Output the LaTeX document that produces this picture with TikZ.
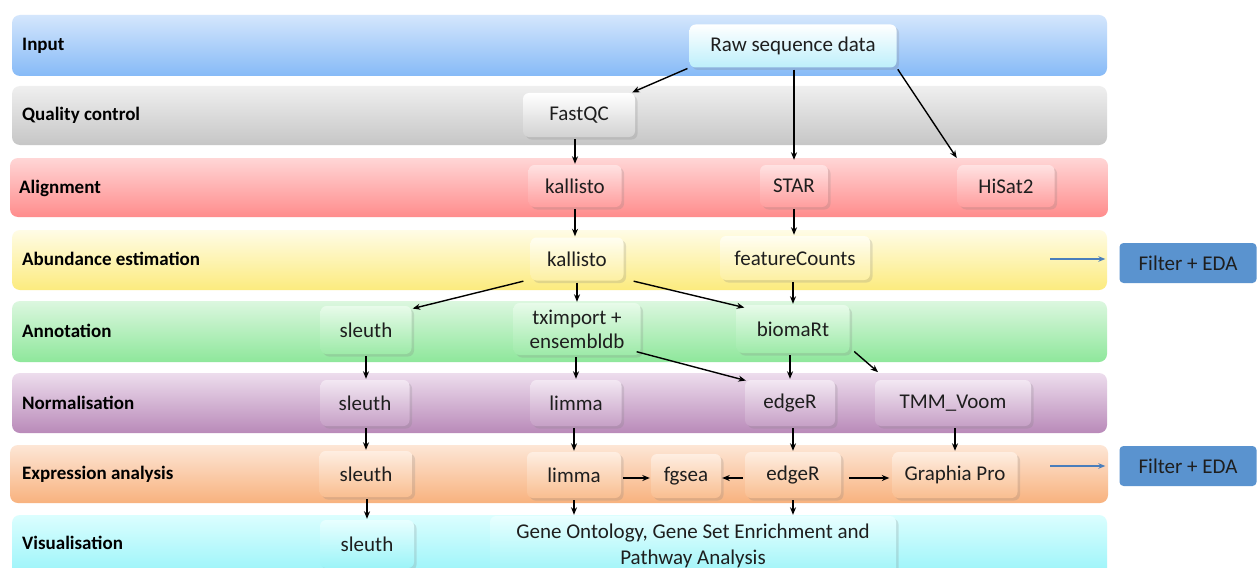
\documentclass[tikz,border=0pt]{standalone}
\usepackage{fontspec}
\setmainfont{Carlito}
\usetikzlibrary{shadows,arrows.meta,calc}
\definecolor{laInT}{HTML}{D4E6FC}\definecolor{laInB}{HTML}{86BAF7}
\definecolor{laQcT}{HTML}{EFEFEF}\definecolor{laQcB}{HTML}{C6C6C6}
\definecolor{laAlT}{HTML}{FFD6D6}\definecolor{laAlB}{HTML}{FF8C8C}
\definecolor{laAbT}{HTML}{FFFCE6}\definecolor{laAbB}{HTML}{FCEB7E}
\definecolor{laAnT}{HTML}{DCF7DF}\definecolor{laAnB}{HTML}{8EE79B}
\definecolor{laNoT}{HTML}{EDDDED}\definecolor{laNoB}{HTML}{B98AB9}
\definecolor{laExT}{HTML}{FDE6D6}\definecolor{laExB}{HTML}{F8B27E}
\definecolor{laViT}{HTML}{DBFEFE}\definecolor{laViB}{HTML}{7FF0F8}
\definecolor{bxRawB}{HTML}{BDEFFB}
\definecolor{bxQcB}{HTML}{D2D2D2}
\definecolor{bxAlT}{HTML}{FFE2E2}\definecolor{bxAlB}{HTML}{FF9E9E}
\definecolor{bxAbT}{HTML}{FFFEF2}\definecolor{bxAbB}{HTML}{FDF0A2}
\definecolor{bxAnT}{HTML}{E8FBEA}\definecolor{bxAnB}{HTML}{9DEAA8}
\definecolor{bxNoT}{HTML}{F3E8F3}\definecolor{bxNoB}{HTML}{C6A0C6}
\definecolor{bxExT}{HTML}{FEEEE2}\definecolor{bxExB}{HTML}{F9BE90}
\definecolor{bxViT}{HTML}{E8FFFF}\definecolor{bxViB}{HTML}{9CF4F8}
\definecolor{feBlue}{HTML}{5A93CF}
\definecolor{arBlue}{HTML}{4A7EBB}
\definecolor{txDark}{HTML}{1E1E1E}
\tikzset{
  lane/.style 2 args={rounded corners=8pt,top color=#1,bottom color=#2,draw=none},
  lanelabel/.style={anchor=west,font=\bfseries\fontsize{19}{22}\selectfont,text=black,inner sep=0pt},
  box/.style 2 args={rounded corners=6pt,top color=#1,bottom color=#2,draw=none,
     text=txDark,font=\fontsize{21}{24}\selectfont,inner sep=2pt,align=center,
     drop shadow={shadow xshift=2.5pt,shadow yshift=-2.5pt,opacity=0.22}},
  febox/.style={rounded corners=4pt,fill=feBlue,draw=none,text=txDark,
     font=\fontsize{21}{24}\selectfont,minimum width=137pt,minimum height=40pt},
  arr/.style={-{Stealth[length=7.5pt,width=6pt]},line width=1.4pt,black,shorten <=2pt,shorten >=1pt},
  barr/.style={-{Stealth[length=7pt,width=5.5pt]},line width=1.2pt,arBlue},
}
\begin{document}
\begin{tikzpicture}[x=1pt,y=-1pt]
\clip (0,0) rectangle (1257,567);
\useasboundingbox (0,0) rectangle (1257,567);
\fill[white] (0,0) rectangle (1257,567);
% lanes
\path[lane={laInT}{laInB}] (12,15) rectangle (1107,76);
\path[lane={laQcT}{laQcB}] (12,86) rectangle (1107,145);
\path[lane={laAlT}{laAlB}] (10,158) rectangle (1108,217);
\path[lane={laAbT}{laAbB}] (12,230) rectangle (1107,290);
\path[lane={laAnT}{laAnB}] (12,301) rectangle (1107,362);
\path[lane={laNoT}{laNoB}] (12,373) rectangle (1107,433);
\path[lane={laExT}{laExB}] (10,445) rectangle (1108,503);
\path[lane={laViT}{laViB}] (12,515) rectangle (1107,600);
% lane labels
\node[lanelabel] (lInput) at (22,46) {Input};
\node[lanelabel] (lQc) at (22,115) {Quality control};
\node[lanelabel] (lAl) at (19,188) {Alignment};
\node[lanelabel] (lAb) at (22,259) {Abundance estimation};
\node[lanelabel] (lAn) at (22,331) {Annotation};
\node[lanelabel] (lNo) at (22,403) {Normalisation};
\node[lanelabel] (lEx) at (22,474) {Expression analysis};
\node[lanelabel] (lVi) at (22,543) {Visualisation};
% boxes
\node[box={white}{bxRawB},minimum width=207pt,minimum height=43pt] (raw) at (793,46) {Raw sequence data};
\node[box={white}{bxQcB},minimum width=112pt,minimum height=44pt] (fastqc) at (579,115) {FastQC};
\node[box={bxAlT}{bxAlB},minimum width=93pt,minimum height=42pt] (kal1) at (575,186) {kallisto};
\node[box={bxAlT}{bxAlB},minimum width=68pt,minimum height=42pt] (star) at (794,186) {STAR};
\node[box={bxAlT}{bxAlB},minimum width=97pt,minimum height=42pt] (hisat) at (1006,186) {HiSat2};
\node[box={bxAbT}{bxAbB},minimum width=93pt,minimum height=43pt] (kal2) at (577,259) {kallisto};
\node[box={bxAbT}{bxAbB},minimum width=150pt,minimum height=44pt] (fc) at (795,258) {featureCounts};
\node[box={bxAnT}{bxAnB},minimum width=91pt,minimum height=48pt] (sl1) at (366,330) {sleuth};
\node[box={bxAnT}{bxAnB},minimum width=127pt,minimum height=52pt] (tx) at (577,329) {tximport +\\ensembldb};
\node[box={bxAnT}{bxAnB},minimum width=113pt,minimum height=48pt] (bm) at (793,329) {biomaRt};
\node[box={bxNoT}{bxNoB},minimum width=89pt,minimum height=46pt] (sl2) at (365,403) {sleuth};
\node[box={bxNoT}{bxNoB},minimum width=91pt,minimum height=46pt] (li1) at (576,403) {limma};
\node[box={bxNoT}{bxNoB},minimum width=90pt,minimum height=46pt] (ed1) at (790,403) {edgeR};
\node[box={bxNoT}{bxNoB},minimum width=156pt,minimum height=46pt] (tmm) at (953,403) {TMM\_Voom};
\node[box={bxExT}{bxExB},minimum width=93pt,minimum height=46pt] (sl3) at (366,474) {sleuth};
\node[box={bxExT}{bxExB},minimum width=94pt,minimum height=46pt] (li2) at (574,475) {limma};
\node[box={bxExT}{bxExB},minimum width=70pt,minimum height=44pt] (fg) at (686,476) {fgsea};
\node[box={bxExT}{bxExB},minimum width=96pt,minimum height=46pt] (ed2) at (793,475) {edgeR};
\node[box={bxExT}{bxExB},minimum width=125pt,minimum height=46pt] (gp) at (955,475) {Graphia Pro};
\node[box={bxViT}{bxViB},minimum width=94pt,minimum height=48pt] (sl4) at (367,544) {sleuth};
\node[box={bxViT}{bxViB},minimum width=406pt,minimum height=60pt,font=\fontsize{21}{26}\selectfont] (go) at (693,546) {Gene Ontology, Gene Set Enrichment and\\Pathway Analysis};
\node[febox] (fe1) at (1188,263) {Filter + EDA};
\node[febox] (fe2) at (1188,466) {Filter + EDA};
% connectors
\draw[arr] (raw.south west) -- ([xshift=-4pt]fastqc.north east);
\draw[arr] (raw.south -| star.north) -- ([yshift=4pt]star.north);
\draw[arr] (raw.south east) -- ([yshift=6pt]hisat.north west);
\draw[arr] (fastqc.south -| kal1.north) -- (kal1.north);
\draw[arr] (kal1.south) -- (kal1.south |- kal2.north);
\draw[arr] (star.south) -- (star.south |- fc.north);
\draw[arr] ([xshift=-5pt]kal2.south west) -- ([yshift=-3pt]sl1.north east);
\draw[arr] (kal2.south -| tx.north) -- (tx.north);
\draw[arr] ([xshift=8pt]kal2.south east) -- ([xshift=9pt,yshift=-3pt]bm.north west);
\draw[arr] (fc.south -| bm.north) -- (bm.north);
\draw[arr] (sl1.south) -- (sl1.south |- sl2.north);
\draw[arr] (tx.south -| li1.north) -- (li1.north);
\draw[arr] ([xshift=-6pt,yshift=4pt]tx.south east) -- ([xshift=2pt,yshift=-1pt]ed1.north west);
\draw[arr] (bm.south -| ed1.north) -- (ed1.north);
\draw[arr] ([xshift=3pt,yshift=3pt]bm.south east) -- ([xshift=4pt,yshift=7pt]tmm.north west);
\draw[arr] (sl2.south -| sl3.north) -- (sl3.north);
\draw[arr] (li1.south -| li2.north) -- (li2.north);
\draw[arr] (ed1.south -| ed2.north) -- (ed2.north);
\draw[arr] (tmm.south -| gp.north) -- (gp.north);
\draw[arr] ([yshift=-3pt]li2.east) -- ([yshift=-3pt]li2.east -| fg.west);
\draw[arr] ([yshift=-3pt]ed2.west) -- ([yshift=-3pt]ed2.west -| fg.east);
\draw[arr,shorten <=8pt,shorten >=3pt] ([yshift=-3pt]ed2.east) -- ([yshift=-3pt]ed2.east -| gp.west);
\draw[arr] (sl3.south -| sl4.north) -- (sl4.north);
\draw[arr] (li2.south) -- (li2.south |- go.north);
\draw[arr] (ed2.south) -- (ed2.south |- go.north);
\coordinate (b1) at (1050,259);
\coordinate (b2) at (1050,466);
\draw[barr,shorten >=14pt] (b1) -- (b1 -| fe1.west);
\draw[barr,shorten >=14pt] (b2) -- (b2 -| fe2.west);
\end{tikzpicture}
\end{document}
